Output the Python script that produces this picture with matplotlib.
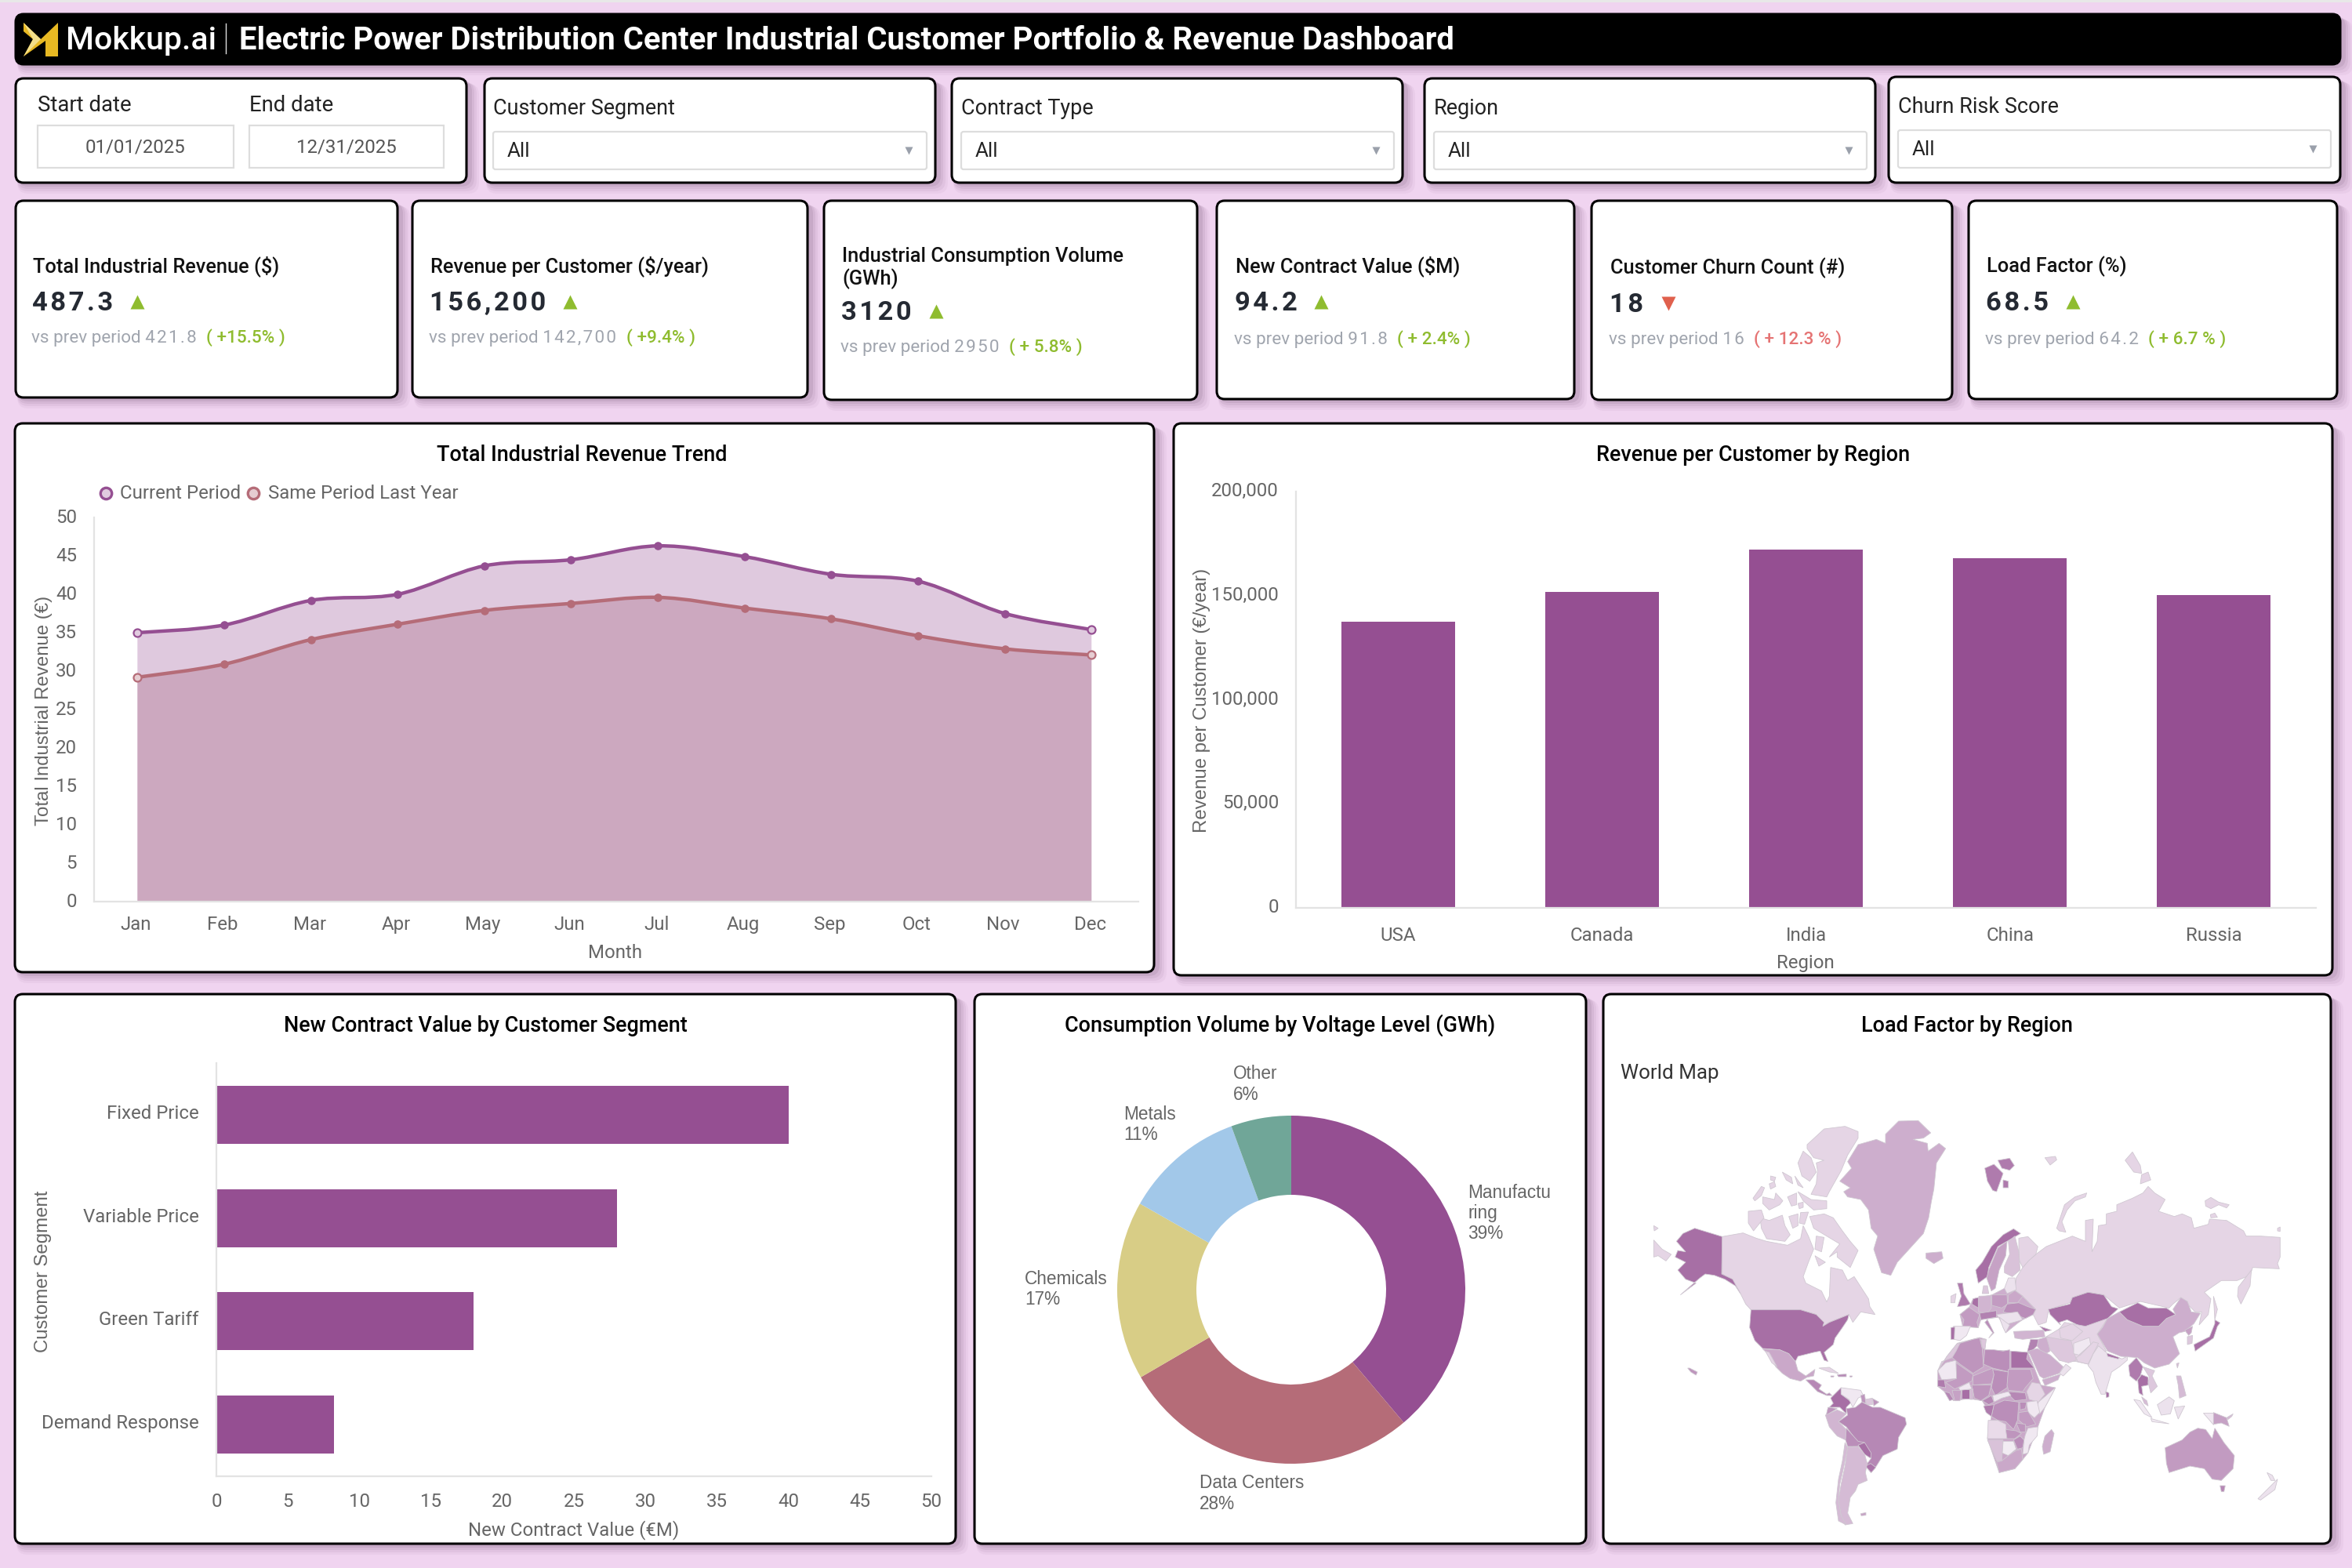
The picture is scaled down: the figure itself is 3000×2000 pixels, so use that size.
#dashboard recreation: electric power distribution center revenue dashboard
import numpy as np
import matplotlib
matplotlib.use('Agg')
import matplotlib.pyplot as plt
from matplotlib.patches import FancyBboxPatch, PathPatch, Polygon
from matplotlib.path import Path
from matplotlib.colors import LinearSegmentedColormap
from matplotlib.transforms import ScaledTranslation

plt.rcParams['font.family'] = ['Roboto', 'DejaVu Sans']

#chart data
months = ['Jan', 'Feb', 'Mar', 'Apr', 'May', 'Jun', 'Jul', 'Aug', 'Sep', 'Oct', 'Nov', 'Dec']
rev_current = [35.0, 36.0, 39.2, 40.0, 43.7, 44.5, 46.3, 44.9, 42.6, 41.7, 37.5, 35.4]
rev_last = [29.2, 30.9, 34.1, 36.1, 37.9, 38.8, 39.6, 38.2, 36.8, 34.6, 32.9, 32.1]

regions = ['USA', 'Canada', 'India', 'China', 'Russia']
rev_per_customer = [137400, 151800, 172100, 168100, 150200]

segments = ['Fixed Price', 'Variable Price', 'Green Tariff', 'Demand Response']
contract_value = [40, 28, 18, 8.2]

voltage_labels = ['Manufactu\nring', 'Data Centers', 'Chemicals', 'Metals', 'Other']
voltage_gwh = [1215, 870, 520, 350, 175]
voltage_pct = ['39%', '28%', '17%', '11%', '6%']
voltage_colors = ['#954f92', '#b56c78', '#d8cd86', '#a2c8e9', '#70a698']

#kpi cards: title lines, value, prev value, change, good or bad
kpi_titles = [['Total Industrial Revenue ($)'], ['Revenue per Customer ($/year)'],
              ['Industrial Consumption Volume', '(GWh)'], ['New Contract Value ($M)'],
              ['Customer Churn Count (#)'], ['Load Factor (%)']]
kpi_values = ['487.3', '156,200', '3120', '94.2', '18', '68.5']
kpi_prev = ['421.8', '142,700', '2950', '91.8', '16', '64.2']
kpi_change = ['( +15.5% )', '( +9.4% )', '( + 5.8% )', '( + 2.4% )', '( + 12.3 % )', '( + 6.7 % )']
kpi_good = [True, True, True, True, False, True]

#world map outlines in 3x crop coordinates, with load factor level 0-1
MAP_NW = [
    (0.5, [(965,30),(1040,28),(1088,75),(1060,95),(1020,100),(1075,115),(1078,145),(1120,115),(1145,135),(1110,190),(1100,290),(1090,340),(1080,400),(1060,460),(1010,515),(960,570),(935,620),(900,610),(870,520),(885,470),(860,440),(850,370),(820,330),(770,320),(755,300),(780,285),(740,260),(785,210),(770,185),(810,120),(880,100),(915,115),(915,80)]),
    (0.2, [(615,120),(680,60),(760,50),(810,70),(810,95),(770,160),(745,220),(700,300),(690,320),(630,310),(650,270),(655,220),(650,190),(680,180),(640,170),(615,135)]),
    (0.2, [(580,190),(600,145),(630,170),(650,225),(625,260),(595,240)]),
    (0.2, [(520,225),(555,245),(560,270),(535,255)]),
    (0.2, [(568,240),(600,285),(580,275)]),
    (0.2, [(475,240),(495,245),(490,260),(475,255)]),
    (0.2, [(470,270),(490,262),(495,280),(475,290)]),
    (0.2, [(408,325),(440,280),(452,285),(440,315),(415,335)]),
    (0.2, [(445,320),(490,330),(495,305),(522,335),(510,350),(470,370),(445,345)]),
    (0.2, [(540,320),(575,305),(575,350),(555,355)]),
    (0.2, [(580,300),(630,330),(690,335),(690,365),(640,370),(600,335)]),
    (0.2, [(580,345),(600,340),(600,360),(585,365)]),
    (0.2, [(435,400),(470,410),(520,390),(530,430),(550,465),(530,490),(460,480),(440,440)]),
    (0.2, [(390,375),(440,370),(450,400),(410,450),(390,420)]),
    (0.2, [(545,395),(580,385),(580,430),(560,440)]),
    (0.2, [(590,380),(620,378),(605,425),(585,420)]),
    (0.2, [(625,395),(680,385),(715,400),(750,450),(780,490),(810,525),(780,590),(730,550),(730,530),(700,550),(740,500),(690,470),(640,440)]),
    (0.2, [(650,470),(680,475),(670,530),(645,520)]),
    (0.2, [(645,545),(685,570),(660,585)]),
    (0.2, [(290,472),(370,458),(420,478),(460,490),(540,505),(590,480),(600,430),(620,470),(640,520),(620,570),(600,625),(610,650),(670,680),(690,722),(700,700),(705,590),(750,600),(770,640),(795,625),(850,710),(855,740),(875,770),(820,760),(790,800),(775,770),(700,800),(675,815),(650,770),(590,752),(400,752),(380,730),(360,690),(330,640),(290,615)]),
    (1.0, [(185,440),(290,472),(288,615),(330,635),(360,690),(340,660),(300,635),(260,620),(225,615),(205,630),(170,660),(130,695),(190,650),(150,635),(120,600),(150,570),(110,550),(120,525),(150,530),(115,490),(140,460)]),
    (0.2, [(28,430),(45,440),(30,450)]),
    (0.2, [(28,485),(60,520),(95,540),(75,565),(45,545),(28,550)]),
    (0.5, [(1070,535),(1130,530),(1135,555),(1100,575),(1070,555)]),
    (0.9, [(1190,650),(1210,650),(1215,690),(1240,730),(1225,735),(1190,740),(1205,700)]),
    (0.2, [(1165,700),(1185,690),(1180,725),(1165,725)]),
    (1.0, [(400,752),(590,752),(650,770),(680,800),(675,815),(700,800),(775,770),(770,790),(750,820),(722,860),(715,885),(680,915),(695,950),(680,945),(665,910),(640,915),(580,930),(570,950),(545,920),(510,905),(445,900),(415,870),(395,820)]),
]
MAP_SW = [
    (0.55, [(445,122),(510,125),(545,140),(570,170),(580,205),(610,225),(645,200),(640,225),(615,230),(590,245),(550,235),(520,215),(495,190),(470,145)]),
    (0.2, [(455,130),(470,135),(500,190),(480,175)]),
    (0.8, [(610,240),(640,240),(670,260),(660,275),(690,295),(700,290),(710,300),(690,300),(655,285),(625,255)]),
    (0.2, [(660,195),(700,192),(735,215),(700,210)]),
    (0.8, [(730,220),(765,218),(765,228),(735,228)]),
    (0.8, [(705,225),(718,225),(716,229),(706,229)]),
    (0.8, [(778,225),(788,225),(786,229),(779,229)]),
    (0.7, [(158,195),(165,195),(195,210),(190,222),(170,210)]),
    (1.0, [(705,310),(745,270),(745,295),(785,325),(765,345),(765,370),(740,345),(700,345),(715,330)]),
    (0.05, [(745,270),(820,280),(830,300),(810,310),(790,345),(775,315),(745,295)]),
    (0.7, [(820,300),(835,295),(840,330),(825,325)]),
    (0.3, [(838,315),(865,310),(865,335),(842,335)]),
    (0.7, [(866,312),(890,325),(870,340)]),
    (0.7, [(688,375),(695,345),(730,350),(705,365)]),
    (0.45, [(685,375),(730,355),(765,370),(735,400),(765,430),(762,470),(730,455),(700,420)]),
    (0.8, [(765,350),(800,345),(825,325),(865,345),(895,345),(990,385),(995,410),(965,460),(960,505),(905,530),(880,570),(860,595),(838,570),(860,540),(845,500),(815,490),(810,480),(765,420),(735,400),(770,375)]),
    (0.75, [(765,425),(810,475),(835,480),(810,495),(770,495),(762,470)]),
    (1.0, [(810,490),(835,480),(860,520),(858,540),(835,525)]),
    (0.95, [(838,570),(858,560),(878,575),(860,595)]),
    (0.4, [(770,497),(810,495),(835,525),(845,560),(838,595),(845,625),(810,640),(800,665),(780,690),(770,750),(790,790),(760,795),(745,760),(735,700),(745,640),(760,570)]),
    (0.4, [(760,480),(770,500),(755,575),(740,640),(735,700),(745,760),(765,795),(735,780),(725,710),(735,620),(750,550)]),
    (0.6, [(820,752),(840,748),(840,758),(822,760)]),
]
MAP_NE = [
    (0.5, [(0,770),(35,742),(50,710),(122,695),(170,670),(215,640),(240,700),(290,750),(280,770),(250,785),(240,790),(225,800),(175,840),(150,780),(80,790),(70,820),(10,815)]),
    (0.2, [(215,630),(240,590),(265,560),(290,540),(330,510),(380,490),(430,470),(480,490),(480,410),(510,405),(505,530),(525,490),(530,430),(560,425),(560,385),(600,375),(600,350),(660,325),(700,305),(720,280),(745,305),(785,330),(760,375),(820,395),(850,385),(885,400),(895,440),(950,425),(955,405),(1020,410),(1085,450),(1095,470),(1150,470),(1225,475),(1225,550),(1215,575),(1222,595),(1120,590),(1110,620),(1060,640),(1040,640),(1000,640),(935,685),(960,710),(950,770),(915,810),(925,760),(900,760),(845,705),(815,730),(800,745),(690,720),(610,745),(550,695),(490,685),(430,705),(420,725),(340,750),(330,800),(300,810),(280,770),(290,750),(240,700),(210,678)]),
    (0.2, [(225,478),(260,472),(298,510),(290,540),(262,565),(240,590),(225,560)]),
    (0.2, [(370,440),(400,350),(440,320),(485,305),(480,320),(440,335),(410,370),(390,415),(405,455),(380,450)]),
    (0.9, [(95,210),(130,195),(165,230),(140,300),(125,295),(105,260)]),
    (0.9, [(145,180),(190,172),(208,200),(190,218),(160,210)]),
    (0.9, [(165,255),(185,260),(185,285),(165,285)]),
    (0.2, [(325,170),(365,165),(370,178),(345,198)]),
    (0.2, [(632,180),(660,148),(690,200),(695,230),(665,225)]),
    (0.2, [(695,235),(720,225),(730,255),(690,270)]),
    (0.2, [(938,335),(960,322),(990,340),(1030,350),(1020,362),(990,350),(960,365),(940,355)]),
    (0.2, [(958,388),(975,382),(985,398),(960,400)]),
    (0.2, [(1215,440),(1225,435),(1225,452),(1215,450)]),
    (0.2, [(1065,665),(1115,600),(1110,660),(1075,730),(1062,700)]),
    (0.2, [(970,700),(985,750),(975,790)]),
    (1.0, [(60,600),(85,570),(120,510),(165,465),(205,442),(232,460),(180,490),(145,510),(110,590),(105,625),(70,650)]),
    (0.6, [(110,600),(145,515),(180,490),(175,545),(150,600),(135,670),(120,680),(102,630)]),
    (0.35, [(185,490),(210,470),(225,530),(230,600),(200,625),(170,610),(170,585),(190,540)]),
    (0.3, [(90,660),(105,660),(110,690),(85,690)]),
    (0.65, [(0,770),(35,742),(75,770),(65,800),(70,820),(30,818),(10,815),(15,790)]),
    (0.45, [(72,700),(118,698),(120,745),(105,765),(70,760)]),
    (0.65, [(122,695),(180,695),(182,730),(160,745),(122,735)]),
    (0.55, [(185,695),(210,678),(240,700),(220,725),(185,725)]),
    (0.75, [(180,730),(225,725),(260,740),(290,750),(280,770),(250,785),(210,770),(165,760)]),
    (0.1, [(185,630),(210,630),(215,675),(180,690),(170,670)]),
    (1.0, [(50,710),(70,705),(70,745),(45,730)]),
    (0.85, [(75,765),(140,755),(140,780),(80,790)]),
    (0.1, [(140,770),(220,760),(240,790),(170,810),(160,800)]),
    (1.0, [(338,750),(420,730),(430,705),(490,685),(550,695),(580,740),(605,748),(565,785),(555,800),(480,825),(410,790),(380,800),(385,810),(370,795),(345,770)]),
]
MAP_SE = [
    #underlays so the small countries do not leave gaps
    (0.55, [(-85,205),(-50,150),(-10,100),(75,78),(100,85),(95,125),(195,130),(260,135),(285,195),(310,260),(365,270),(325,345),(298,420),(260,520),(240,545),(210,580),(150,595),(105,465),(120,380),(85,320),(35,312),(-25,320),(-60,285),(-85,265)]),
    (0.2, [(330,75),(380,45),(400,20),(480,35),(565,5),(525,65),(560,130),(510,140),(490,180),(445,170),(380,165)]),
    (0.5, [(565,5),(610,-20),(640,10),(700,35),(760,35),(790,5),(825,-10),(815,-30),(845,-75),(870,-60),(885,-20),(920,-15),(895,25),(860,55),(838,60),(815,75),(840,140),(800,180),(745,195),(705,175),(680,155),(615,150),(565,130),(525,65),(545,40)]),
    (1.0, [(610,-20),(680,-55),(720,-35),(790,-35),(825,-10),(790,5),(760,35),(700,35),(640,10)]),
    (0.6, [(860,50),(890,35),(885,60),(875,70)]),
    (0.3, [(870,75),(890,70),(888,100),(870,105)]),
    (1.0, [(895,105),(955,75),(975,25),(975,10),(995,22),(985,35),(970,80),(900,130)]),
    (0.45, [(205,55),(320,50),(325,75),(240,85),(210,80)]),
    (0.95, [(305,35),(350,50),(325,55)]),
    (0.5, [(300,85),(335,75),(345,130),(320,145),(295,110)]),
    (0.85, [(270,85),(300,85),(295,110),(265,140),(258,130)]),
    (0.5, [(262,130),(295,120),(345,145),(395,190),(380,215),(320,235),(305,225)]),
    (0.5, [(315,240),(385,218),(375,240),(325,262)]),
    (0.1, [(380,215),(405,180),(425,195),(395,225)]),
    (0.3, [(330,75),(385,85),(425,90),(445,165),(415,175),(380,165),(345,125)]),
    (0.2, [(380,45),(430,25),(470,55),(430,90),(385,80)]),
    (0.05, [(435,100),(495,78),(500,105),(455,145),(435,140)]),
    (0.2, [(445,155),(460,145),(510,95),(530,100),(510,140),(490,180),(450,170)]),
    (0.1, [(490,185),(510,140),(530,110),(565,140),(620,160),(640,150),(640,165),(610,190),(580,210),(555,295),(540,295),(520,250),(510,210)]),
    (1.0, [(562,138),(610,155),(605,160),(565,150)]),
    (1.0, [(558,285),(570,290),(570,305),(560,308)]),
    (0.9, [(645,185),(675,155),(700,190),(690,225),(675,245),(650,225)]),
    (1.0, [(680,240),(695,220),(720,230),(720,260),(695,265),(700,300),(685,290)]),
    (0.3, [(700,190),(745,205),(735,225),(755,265),(730,290),(720,250),(725,230)]),
    (0.4, [(695,305),(715,320),(720,340),(705,330)]),
    (0.05, [(665,315),(690,320),(735,385),(705,370)]),
    (0.05, [(730,388),(800,408),(735,400)]),
    (0.1, [(755,335),(800,305),(820,320),(805,370),(770,375)]),
    (0.1, [(820,345),(860,340),(835,390)]),
    (0.4, [(828,225),(845,225),(865,300),(840,310),(835,260)]),
    (0.4, [(828,178),(838,175),(832,195)]),
    (0.05, [(930,365),(968,365),(968,410)]),
    (0.6, [(970,365),(1020,385),(1030,418),(1000,405),(970,410)]),
    (0.4, [(1020,385),(1045,370),(1040,380),(1025,392)]),
    (0.1, [(1140,695),(1195,640),(1215,620),(1205,660),(1150,700)]),
    (0.1, [(1175,595),(1195,605),(1205,625),(1190,625)]),
    (0.65, [(785,500),(850,470),(880,440),(910,425),(940,430),(965,465),(975,425),(1010,480),(1050,530),(1045,580),(1000,625),(965,620),(935,580),(880,570),(800,595),(790,560)]),
    (0.8, [(995,645),(1015,645),(1010,668),(1000,668)]),
    #africa, west part runs left of the crop
    (0.3, [(-85,205),(-50,150),(-10,100),(10,100),(-30,155),(-70,170)]),
    (0.05, [(-85,205),(-55,175),(-15,165),(-13,235),(-70,240)]),
    (0.7, [(0,100),(50,85),(75,80),(85,120),(90,190),(50,215),(0,180),(-30,155),(-15,130)]),
    (0.65, [(-15,175),(50,220),(45,245),(-20,275),(-55,250),(-13,235)]),
    (0.65, [(50,225),(125,195),(130,220),(120,255),(50,260)]),
    (0.75, [(125,200),(185,210),(180,270),(135,300),(120,270),(130,220)]),
    (0.75, [(95,125),(130,125),(165,130),(190,125),(190,210),(125,195),(90,180)]),
    (1.0, [(195,130),(260,135),(255,160),(285,195),(195,195)]),
    (0.3, [(80,85),(100,85),(95,125),(85,115)]),
    (0.65, [(185,200),(270,200),(280,235),(250,270),(240,285),(185,280),(180,260)]),
    (0.8, [(185,285),(250,290),(255,315),(210,320),(190,300)]),
    (0.7, [(45,260),(120,260),(110,300),(80,320),(55,310)]),
    (0.05, [(125,300),(185,285),(195,300),(160,310),(130,325)]),
    (0.8, [(85,320),(120,300),(130,325),(110,335)]),
    (0.75, [(130,335),(170,318),(225,325),(220,395),(205,430),(175,400),(145,395),(120,380)]),
    (0.9, [(90,340),(130,335),(120,380),(100,365)]),
    (0.2, [(255,285),(275,250),(305,255),(325,295),(300,325),(265,315)]),
    (0.05, [(300,325),(365,270),(355,290),(325,345),(305,370),(295,350)]),
    (0.05, [(255,325),(295,320),(305,365),(285,385),(260,365)]),
    (0.75, [(228,325),(255,325),(250,350),(230,355)]),
    (0.65, [(225,365),(260,360),(290,410),(255,420),(225,395)]),
    (0.15, [(108,395),(145,395),(175,410),(180,465),(105,465)]),
    (0.7, [(175,430),(215,435),(235,445),(210,465),(180,465)]),
    (0.7, [(215,405),(250,410),(250,440),(230,440)]),
    (0.05, [(260,425),(298,420),(295,455),(265,490),(260,520),(240,525),(245,470),(250,450)]),
    (0.75, [(205,470),(230,455),(245,470),(240,500),(220,505)]),
    (0.35, [(105,470),(165,470),(160,550),(140,550)]),
    (0.02, [(165,475),(205,475),(215,505),(185,530),(162,520)]),
    (0.55, [(140,555),(160,550),(185,530),(215,510),(235,505),(240,545),(210,580),(150,595)]),
    (0.5, [(350,430),(360,445),(345,515),(320,525),(315,495),(325,455)]),
    (0.9, [(-85,240),(-60,240),(-55,270),(-85,265)]),
    (0.8, [(-60,285),(-40,290),(-25,315),(-40,320)]),
    (0.6, [(-30,280),(5,280),(0,320),(-20,320)]),
    (1.0, [(7,277),(35,277),(35,312),(7,312)]),
    (0.05, [(-5,270),(35,250),(45,275),(0,280)]),
    (0.4, [(38,280),(50,275),(48,315),(38,315)]),
    (0.05, [(-25,35),(40,35),(25,70),(0,90),(-22,85)]),
    (1.0, [(-35,40),(-20,38),(-22,85),(-35,85)]),
    (0.75, [(105,10),(130,60),(110,80),(125,60),(95,20)]),
    (0.1, [(150,0),(190,30),(175,60),(165,40)]),
]

PURPLE = '#954f92'
ROSE = '#b56c78'
GREY = '#666666'
map_cmap = LinearSegmentedColormap.from_list('lf', ['#f4eef5', '#a76fa5'])

#whole figure in reference pixels
W, H = 3000, 2000
fig = plt.figure(figsize=(15, 10), dpi=200, facecolor='#f0d4f0')
bg = fig.add_axes([0, 0, 1, 1])
bg.set_xlim(0, W)
bg.set_ylim(H, 0)
bg.axis('off')


def fs(px):
    return px * 0.36


def pixel_axes(x0, y0, x1, y1):
    #axes placed by reference pixel box
    ax = fig.add_axes([x0 / W, 1 - y1 / H, (x1 - x0) / W, (y1 - y0) / H])
    ax.patch.set_alpha(0)
    return ax


def card(x0, y0, x1, y1, color='white'):
    for off, a in [(14, 0.05), (11, 0.07), (8, 0.09), (5, 0.12)]:
        bg.add_patch(FancyBboxPatch((x0 + 2, y0 + off / 2), x1 - x0 + off, y1 - y0 + off / 2,
                                    boxstyle='round,pad=0,rounding_size=14', fc='#6a4a6a', ec='none', alpha=a))
    bg.add_patch(FancyBboxPatch((x0, y0), x1 - x0, y1 - y0, boxstyle='round,pad=0,rounding_size=10',
                                fc=color, ec='black', lw=1.1))


def label(x, y, s, px=24, color='black', ha='left', weight='normal', family=None, rotation=0):
    kw = {}
    if family:
        kw['family'] = family
    return bg.text(x, y + 2, s, fontsize=fs(px), color=color, ha=ha, va='center', fontweight=weight,
                   rotation=rotation, **kw)


def spaced(s):
    #letter spacing with hair spaces
    return '\u200a'.join(s)


def style_axes(ax):
    for s in ['top', 'right']:
        ax.spines[s].set_visible(False)
    for s in ['left', 'bottom']:
        ax.spines[s].set_color('#e3e3e3')
        ax.spines[s].set_linewidth(0.8)
    ax.tick_params(length=0, labelsize=fs(24), labelcolor=GREY)


def nudge(labels, dx=0, dy=0):
    #shift tick labels by reference pixels, dy up
    off = ScaledTranslation(dx / 200, dy / 200, fig.dpi_scale_trans)
    for t in labels:
        t.set_transform(t.get_transform() + off)


def smooth_path(xs, ys, close_to=None):
    #catmull-rom segments through the data points
    verts = [(xs[0], ys[0])]
    codes = [Path.MOVETO]
    n = len(xs)
    for i in range(n - 1):
        i0, i3 = max(i - 1, 0), min(i + 2, n - 1)
        c1 = (xs[i] + (xs[i + 1] - xs[i0]) / 6, ys[i] + (ys[i + 1] - ys[i0]) / 6)
        c2 = (xs[i + 1] - (xs[i3] - xs[i]) / 6, ys[i + 1] - (ys[i3] - ys[i]) / 6)
        verts += [c1, c2, (xs[i + 1], ys[i + 1])]
        codes += [Path.CURVE4] * 3
    if close_to is not None:
        verts += [(xs[-1], close_to), (xs[0], close_to), (xs[0], ys[0])]
        codes += [Path.LINETO, Path.LINETO, Path.CLOSEPOLY]
    return Path(verts, codes)


bg.add_patch(plt.Rectangle((0, 0), W, 3, fc='#e8e8e8', ec='none'))

#header
card(20, 18, 2985, 82, color='black')
bg.add_patch(Polygon([(30, 29), (52, 50), (74, 29), (74, 72), (58, 72), (58, 52), (30, 72), (42, 50), (30, 40)],
                     fc='#e8b923', ec='none'))
bg.add_patch(Polygon([(30, 29), (52, 50), (30, 72), (42, 50)], fc='#f3df8a', ec='none'))
label(84, 50, 'Mokkup.ai', px=41, color='white', weight='medium')
bg.plot([288, 288], [30, 68], color='#dddddd', lw=0.5)
label(305, 50, 'Electric Power Distribution Center Industrial Customer Portfolio & Revenue Dashboard',
      px=40, color='white', weight='bold')

#filter row
card(20, 100, 595, 233)
label(48, 132, 'Start date', px=27.5, color='#222222')
label(318, 132, 'End date', px=27.5, color='#222222')
for x0, x1, s in [(48, 298, '01/01/2025'), (318, 566, '12/31/2025')]:
    bg.add_patch(plt.Rectangle((x0, 160), x1 - x0, 54, fc='white', ec='#dddddd', lw=0.8))
    label((x0 + x1) / 2, 186, s, px=24, color='#555555', ha='center')

filter_names = ['Customer Segment', 'Contract Type', 'Region', 'Churn Risk Score']
filter_cards = [(618, 1193), (1214, 1789), (1817, 2392), (2409, 2985)]
filter_boxes = [(629, 1182), (1226, 1778), (1829, 2381), (2421, 2973)]
for i, name in enumerate(filter_names):
    cy0 = 98 if i == 3 else 100
    dy = -2 if i == 3 else 0
    card(filter_cards[i][0], cy0, filter_cards[i][1], 233)
    bx0, bx1 = filter_boxes[i]
    label(bx0, 136 + dy / 2, name, px=27, color='#222222')
    bg.add_patch(FancyBboxPatch((bx0, 168 + dy), bx1 - bx0, 48, boxstyle='round,pad=0,rounding_size=3',
                                fc='white', ec='#dddddd', lw=0.8))
    label(bx0 + 18, 191 + dy, 'All', px=26, color='#222222')
    bg.plot([bx1 - 23], [192 + dy], marker='v', ms=3.4, color='#9aa0ab', mec='none')

#kpi cards
kpi_boxes = [(20, 256, 507, 507), (526, 256, 1030, 507), (1051, 256, 1527, 510),
             (1552, 256, 2008, 509), (2030, 256, 2490, 510), (2511, 256, 2981, 509)]
kpi_text_x = [42, 549, 1074, 1576, 2054, 2534]
kpi_title_y = [338, 338, 325, 338, 340, 338]
kpi_value_y = [385, 385, 397, 385, 387, 385]
kpi_sub_y = [429, 429, 441, 431, 431, 431]
kpi_arrow_x = [175, 727, 1194, 1685, 2128, 2644]
kpi_pct_x = [263, 799, 1287, 1782, 2237, 2740]
for i in range(6):
    card(*kpi_boxes[i])
    tx = kpi_text_x[i]
    for j, line in enumerate(kpi_titles[i]):
        label(tx, kpi_title_y[i] + 29 * j, line, px=25.4, color='#111111', weight='medium')
    label(tx - 1, kpi_value_y[i], spaced(kpi_values[i]), px=34.5, color='#252a33', weight='bold')
    col = '#8fbc2f' if kpi_good[i] else '#e0604d'
    bg.plot([kpi_arrow_x[i]], [kpi_value_y[i]], marker='^' if kpi_good[i] else 'v', ms=6.5, color=col, mec='none')
    label(tx - 2, kpi_sub_y[i], 'vs prev period ' + spaced(kpi_prev[i]), px=22.5, color='#a0a5ae')
    label(kpi_pct_x[i], kpi_sub_y[i], kpi_change[i], px=22.5, color='#8fbc2f' if kpi_good[i] else '#e57373',
          weight='medium')

#chart cards
card(19, 540, 1472, 1240)
card(1497, 540, 2975, 1244)
card(19, 1268, 1219, 1969)
card(1243, 1268, 2023, 1969)
card(2045, 1268, 2973, 1969)

#revenue trend
label(742, 578, 'Total Industrial Revenue Trend', px=27, ha='center', weight='medium')
ax1 = pixel_axes(120, 660, 1452, 1150)
style_axes(ax1)
x = np.arange(len(months))
ax1.add_patch(PathPatch(smooth_path(x, rev_current, close_to=0), fc=PURPLE, ec='none', alpha=0.3))
ax1.add_patch(PathPatch(smooth_path(x, rev_last, close_to=0), fc='#ab6f88', ec='none', alpha=0.36))
ax1.add_patch(PathPatch(smooth_path(x, rev_current), fc='none', ec=PURPLE, lw=1.6))
ax1.add_patch(PathPatch(smooth_path(x, rev_last), fc='none', ec=ROSE, lw=1.6))
ax1.plot(x, rev_current, 'o', color=PURPLE, ms=3.8, mec='none')
ax1.plot(x, rev_last, 'o', color=ROSE, ms=3.8, mec='none')
#first and last points are open rings
ax1.plot(x[[0, -1]], np.array(rev_current)[[0, -1]], 'o', ms=3.6, mfc='#e1cbdf', mec=PURPLE, mew=0.8)
ax1.plot(x[[0, -1]], np.array(rev_last)[[0, -1]], 'o', ms=3.6, mfc='#e6cdd2', mec=ROSE, mew=0.8)
ax1.set_xlim(-0.5, 11.54)
ax1.set_ylim(0, 50)
ax1.set_xticks(x)
ax1.set_xticklabels(months)
ax1.set_yticks(range(0, 51, 5))
ax1.tick_params(axis='x', pad=fs(18))
ax1.tick_params(axis='y', pad=fs(22))
nudge(ax1.get_xticklabels(), dx=-2)
nudge(ax1.get_yticklabels(), dy=2)
label(785, 1214, 'Month', px=24, color=GREY, ha='center')
label(56, 904, 'Total Industrial Revenue (€)', px=24, color=GREY, ha='center', family='Liberation Sans', rotation=90)
bg.plot([135], [629], 'o', ms=5.2, mfc='#e1cbdf', mec=PURPLE, mew=1.2)
label(153, 627, 'Current Period', px=24, color=GREY)
bg.plot([323], [629], 'o', ms=5.2, mfc='#e6cdd2', mec=ROSE, mew=1.2)
label(342, 627, 'Same Period Last Year', px=24, color=GREY)

#revenue per customer
label(2236, 579, 'Revenue per Customer by Region', px=27, ha='center', weight='medium')
ax2 = pixel_axes(1653, 627, 2954, 1158)
style_axes(ax2)
ax2.bar(regions, rev_per_customer, width=0.558, color=PURPLE)
ax2.set_xlim(-0.5, 4.5)
ax2.set_ylim(0, 200000)
ax2.set_yticks([0, 50000, 100000, 150000, 200000])
ax2.set_yticklabels(['0', '50,000', '100,000', '150,000', '200,000'])
ax2.tick_params(axis='x', pad=fs(24))
ax2.tick_params(axis='y', pad=fs(22))
nudge(ax2.get_yticklabels(), dy=3)
label(2303, 1227, 'Region', px=24, color=GREY, ha='center')
label(1533, 891, 'Revenue per Customer (€/year)', px=24, color=GREY, ha='center', family='Liberation Sans', rotation=90)

#contract value by segment
label(619, 1307, 'New Contract Value by Customer Segment', px=27, ha='center', weight='medium')
ax3 = pixel_axes(276, 1356, 1188, 1883)
style_axes(ax3)
ax3.barh(segments, contract_value, height=0.56, color=PURPLE)
ax3.set_xlim(0, 50)
ax3.set_ylim(3.5, -0.5)
ax3.set_xticks(range(0, 51, 5))
ax3.tick_params(axis='x', pad=fs(23))
ax3.tick_params(axis='y', pad=fs(22))
nudge(ax3.get_yticklabels(), dy=4)
nudge(ax3.get_xticklabels(), dy=2)
label(732, 1950, 'New Contract Value (€M)', px=24, color=GREY, ha='center')
label(55, 1620, 'Customer Segment', px=24, color=GREY, ha='center', family='Liberation Sans', rotation=90)

#consumption donut
label(1633, 1306, 'Consumption Volume by Voltage Level (GWh)', px=27, ha='center', weight='medium')
ax4 = pixel_axes(1425, 1423, 1869, 1867)
ax4.pie(voltage_gwh, colors=voltage_colors, startangle=90, counterclock=False,
        wedgeprops={'width': 0.455}, radius=1)
ax4.set_xlim(-1, 1)
ax4.set_ylim(-1, 1)
donut_label_x = [1872, 1530, 1307, 1433, 1573]
donut_label_y = [1519, 1890, 1629, 1419, 1368]
for i in range(5):
    lines = voltage_labels[i].split('\n') + [voltage_pct[i]]
    for j, line in enumerate(lines):
        label(donut_label_x[i], donut_label_y[i] + 26.3 * j, line, px=22.6, color=GREY, family='Liberation Sans')

#world map
label(2509, 1307, 'Load Factor by Region', px=27, ha='center', weight='medium')
label(2067, 1367, 'World Map', px=26, color='#333333')
ax5 = pixel_axes(2100, 1420, 2920, 1950)
ax5.set_xlim(2100, 2920)
ax5.set_ylim(1950, 1420)
ax5.axis('off')
for shapes, ox, oy in [(MAP_NW, 2100, 1420), (MAP_SW, 2100, 1680), (MAP_NE, 2500, 1420), (MAP_SE, 2500, 1680)]:
    for level, pts in shapes:
        pts = [(ox + p[0] / 3, oy + p[1] / 3) for p in pts]
        ax5.add_patch(Polygon(pts, closed=True, fc=map_cmap(level), ec='#d0c8d2', lw=0.3))

fig.savefig('out.png', dpi=200)
